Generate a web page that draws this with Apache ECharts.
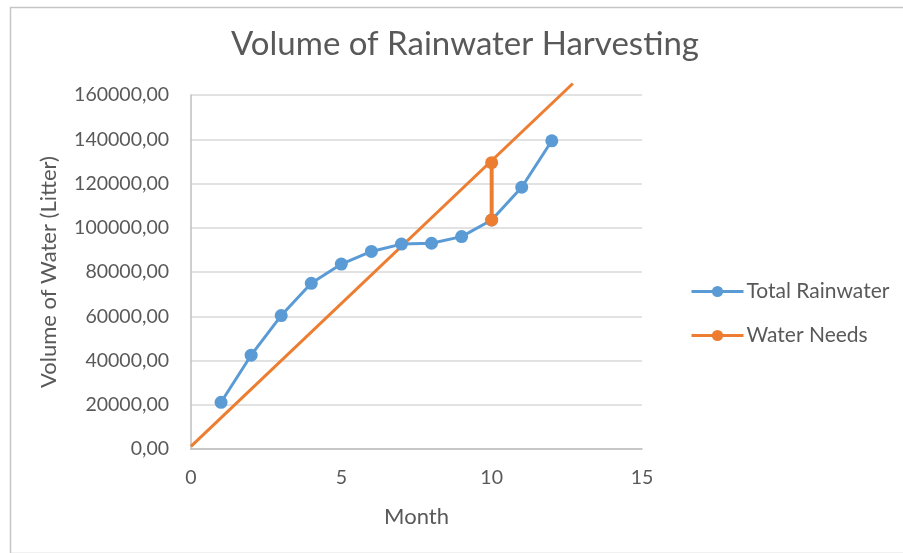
<!DOCTYPE html>
<html>
<head>
<meta charset="utf-8">
<script src="https://cdn.jsdelivr.net/npm/echarts@6/dist/echarts.min.js"></script>
<style>html,body{margin:0;padding:0;background:#fff}#c{width:903px;height:553px}</style>
</head>
<body>
<div id="c"></div>
<script>
const months = [1, 2, 3, 4, 5, 6, 7, 8, 9, 10, 11, 12];
const totalRainwater = [21100, 42400, 60300, 74900, 83600, 89300, 92600, 93000, 96000, 103500, 118300, 139300];
const waterNeedsX = [10, 10];
const waterNeedsY = [103500, 129400];
const needsLineX = [0, 12.7];
const needsLineY = [1200, 165200];
const yTicks = [0, 20000, 40000, 60000, 80000, 100000, 120000, 140000, 160000];
const xTicks = [0, 5, 10, 15];

const FONT = 'Lato';
const TXT = '#595959';
const chart = echarts.init(document.getElementById('c'), null, {renderer: 'canvas'});
chart.setOption({
  animation: false,
  backgroundColor: '#fff',
  title: {
    text: 'Volume of Rainwater Harvesting',
    left: 460, top: 23, textAlign: 'center',
    textStyle: {fontFamily: FONT, fontSize: 33, fontWeight: 'normal', color: TXT}
  },
  graphic: [{
    type: 'rect', left: 8, top: 5, shape: {width: 905, height: 546},
    style: {fill: 'none', stroke: '#c6c6c6', lineWidth: 1.5}, silent: true
  }],
  grid: {left: 191, right: 261, top: 95, bottom: 104, containLabel: false},
  legend: {
    data: ['Total Rainwater', 'Water Needs'],
    orient: 'vertical', left: 690, top: 281, padding: 0,
    itemWidth: 52, itemHeight: 14, itemGap: 23,
    lineStyle: {width: 3},
    textStyle: {fontFamily: FONT, fontSize: 21, color: TXT, padding: [0, 0, 0, -2]}
  },
  xAxis: {
    type: 'value', min: xTicks[0], max: xTicks[xTicks.length - 1], interval: 5,
    name: 'Month', nameLocation: 'middle', nameGap: 57,
    nameTextStyle: {fontFamily: FONT, fontSize: 22, color: TXT},
    axisLine: {show: true, lineStyle: {color: '#bfbfbf', width: 1.5}},
    axisTick: {show: false},
    splitLine: {show: false},
    axisLabel: {fontFamily: FONT, fontSize: 19.5, color: TXT, margin: 19}
  },
  yAxis: {
    type: 'value', min: yTicks[0], max: yTicks[yTicks.length - 1], interval: 20000,
    name: 'Volume of Water (Litter)', nameLocation: 'middle', nameGap: 131,
    nameTextStyle: {fontFamily: FONT, fontSize: 22, color: TXT},
    axisLine: {show: true, lineStyle: {color: '#bfbfbf', width: 1.5}},
    axisTick: {show: false},
    splitLine: {show: true, lineStyle: {color: '#d9d9d9', width: 1.5}},
    axisLabel: {fontFamily: FONT, fontSize: 19.5, color: TXT, margin: 22,
      formatter: v => v.toFixed(2).replace('.', ',')}
  },
  series: [
    {
      name: 'Needs Line', type: 'line', clip: false, showSymbol: false, symbol: 'none',
      data: needsLineX.map((x, i) => [x, needsLineY[i]]),
      lineStyle: {color: '#ed7d31', width: 3}, itemStyle: {color: '#ed7d31'}, z: 3
    },
    {
      name: 'Total Rainwater', type: 'line', symbol: 'circle', symbolSize: 13,
      data: months.map((m, i) => [m, totalRainwater[i]]),
      lineStyle: {color: '#5b9bd5', width: 3}, itemStyle: {color: '#5b9bd5'}, z: 4
    },
    {
      name: 'Water Needs', type: 'line', symbol: 'circle', symbolSize: 13,
      data: waterNeedsX.map((x, i) => [x, waterNeedsY[i]]),
      lineStyle: {color: '#ed7d31', width: 4}, itemStyle: {color: '#ed7d31'}, z: 5
    }
  ]
});
</script>
</body>
</html>
